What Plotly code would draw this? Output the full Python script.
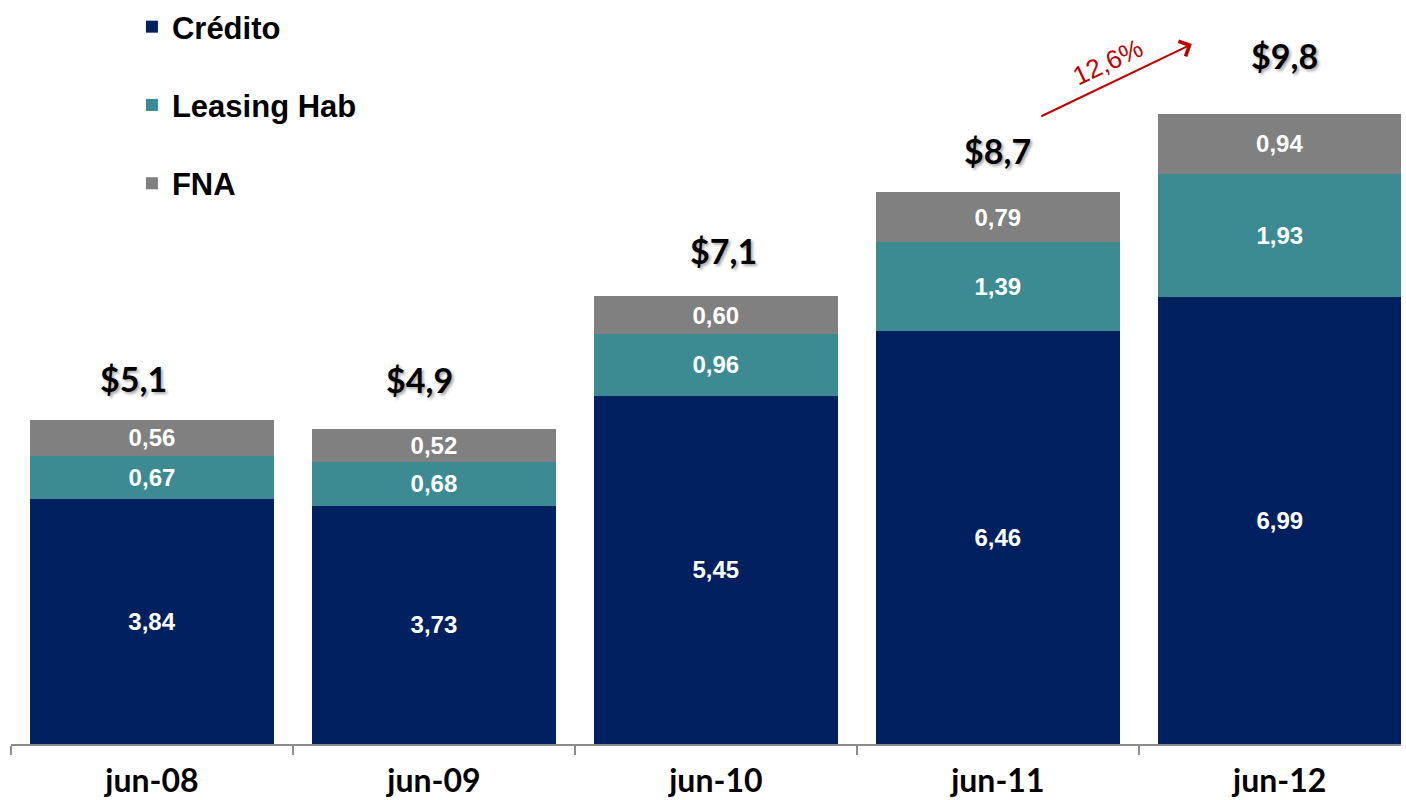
import plotly.graph_objects as go

# data
periods = ["jun-08", "jun-09", "jun-10", "jun-11", "jun-12"]
credito = [3.84, 3.73, 5.45, 6.46, 6.99]
leasing = [0.67, 0.68, 0.96, 1.39, 1.93]
fna = [0.56, 0.52, 0.60, 0.79, 0.94]
totals = [5.1, 4.9, 7.1, 8.7, 9.8]
growth_label = "12,6%"

NAVY = "#002060"
TEAL = "#3C8B92"
GREY = "#808080"
RED = "#C00000"

seg_font = dict(family="Liberation Sans, Arial", size=24, color="white", weight="bold")

fig = go.Figure()
for name, vals, col in [("Crédito", credito, NAVY),
                        ("Leasing Hab", leasing, TEAL),
                        ("FNA", fna, GREY)]:
    fig.add_bar(
        x=periods, y=vals, name=name, marker_color=col, marker_line_width=0,
        legendgroup=name,
        texttemplate="%{y:.2f}", textposition="inside", insidetextanchor="middle",
        textfont=seg_font, textangle=0, hoverinfo="skip",
    )

# totals above each stack (hand-placed offsets, like the original slide)
stack_top = [a + b + c for a, b, c in zip(credito, leasing, fna)]
lift = [41, 49, 45, 41, 58]
nudge = [-18, -14, 8, 0, 5]
for i, p in enumerate(periods):
    fig.add_annotation(
        x=p, y=stack_top[i], yshift=lift[i], xshift=nudge[i], yanchor="middle",
        text=f"${totals[i]:.1f}".replace(".", ","), showarrow=False,
        font=dict(family="Lato", size=34, color="black", weight="bold",
                  shadow="2px 2px 3px rgba(0,0,0,0.35)"),
    )

# growth arrow
fig.add_annotation(
    x=3.688, y=10.95, ax=3.149, ay=9.81, xref="x", yref="y", axref="x", ayref="y",
    text="", showarrow=True, arrowhead=4, arrowsize=1.6, arrowwidth=2,
    arrowcolor=RED,
)
fig.add_annotation(
    x=3.39, y=10.67, xref="x", yref="y", text=growth_label, showarrow=False,
    textangle=-25, font=dict(family="Liberation Sans, Arial", size=26, color=RED),
)

fig.update_layout(
    barmode="stack",
    bargap=0.135,
    separators=",.",
    width=1406, height=800,
    margin=dict(l=11, r=5, t=0, b=56),
    paper_bgcolor="white", plot_bgcolor="white",
    legend=dict(
        x=0.087, y=1.0, xanchor="left", yanchor="top",
        traceorder="grouped", tracegroupgap=35,
        font=dict(family="Liberation Sans, Arial", size=31, color="black", weight="bold"),
        bgcolor="rgba(0,0,0,0)",
    ),
    xaxis=dict(
        range=[-0.5, 4.43], showline=True, linecolor="#8c8c8c", linewidth=2,
        ticks="outside", tickson="boundaries", ticklen=9, tickcolor="#8c8c8c",
        tickwidth=2, showgrid=False, ticklabelstandoff=8,
        tickfont=dict(family="Lato", size=32, color="black", weight="bold"),
    ),
    yaxis=dict(range=[0, 11.64], visible=False, showgrid=False),
)

# drop the default 8px body margin so the figure fills the window exactly
fig.write_html("out.html", config={"displayModeBar": False},
               post_script="document.body.style.margin='0';")
